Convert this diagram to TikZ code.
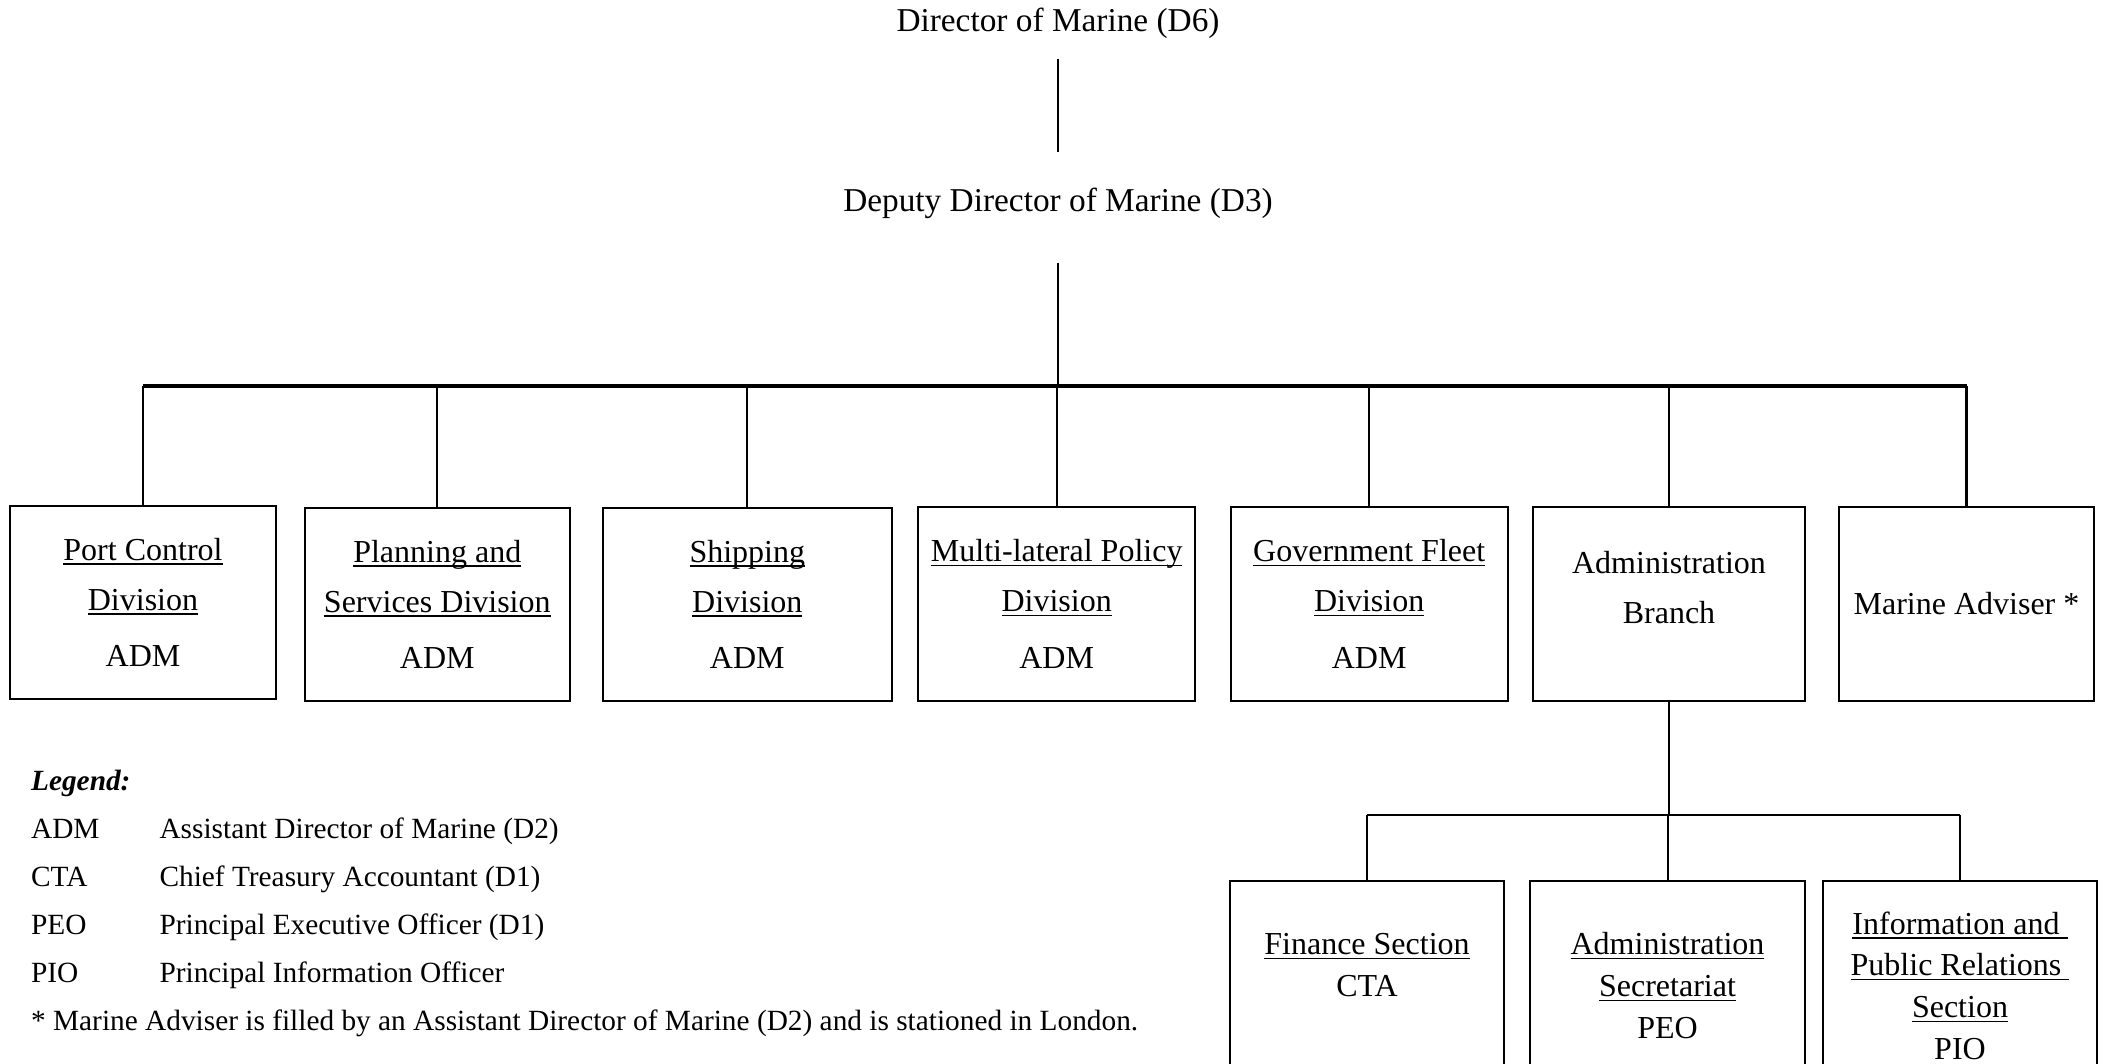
\documentclass[tikz,border=0pt]{standalone}
\usepackage{fontspec}
\setmainfont{Liberation Serif}
\newcommand{\uln}[1]{$\setbox0\hbox{#1}\dp0=0pt\underline{\box0}$}

\tikzset{
	unitbox/.style={draw, line width=0.75pt, minimum width=#1, minimum height=72.4pt, align=center, inner sep=0pt, font=\fontsize{12}{18.75}\selectfont},
	sectbox/.style={draw, line width=0.75pt, minimum width=#1, minimum height=78.4pt, align=center, inner sep=0pt, font=\fontsize{12}{15.6}\selectfont},
	head/.style={anchor=base, inner sep=0pt, font=\fontsize{12.5}{15}\selectfont},
	legtext/.style={anchor=base west, inner sep=0pt, font=\fontsize{11}{13}\selectfont},
	link/.style={line width=0.75pt},
	bus/.style={line width=1.2pt}
}

\begin{document}
\begin{tikzpicture}[x=0.375pt,y=-0.375pt]
		\useasboundingbox (0,0) rectangle (2103,1063);
		
		\node[head] (dir) at (1058,31.7) {Director of Marine (D6)};
		\node[head] (dep) at (1058,211.7) {Deputy Director of Marine (D3)};
		\coordinate (top) at (1058,386);
		\coordinate (sub) at (1669,815);
		
		% divisions
		\node[unitbox=99.4pt] (b1) at (143,602.5) {\uln{Port Control}\\\uln{Division}\\[2.5pt]ADM};
		\node[unitbox=99.5pt] (b2) at (437.3,604.5) {\uln{Planning and}\\\uln{Services Division}\\[2.5pt]ADM};
		\node[unitbox=108.2pt] (b3) at (747.3,604.5) {\uln{Shipping}\\\uln{Division}\\[2.5pt]ADM};
		\node[unitbox=104pt] (b4) at (1056.7,604) {\uln{Multi-lateral Policy}\\\uln{Division}\\[2.5pt]ADM};
		\node[unitbox=103.9pt] (b5) at (1369.2,604) {\uln{Government Fleet}\\\uln{Division}\\[2.5pt]ADM};
		\node[unitbox=102pt] (b6) at (1669,604) {Administration\\Branch\\[-6pt]\mbox{}};
		\node[unitbox=95.6pt] (b7) at (1966.5,604) {Marine Adviser *};
		
		% sections
		\node[sectbox=102.75pt] (s1) at (1367,985.5) {\uln{Finance Section}\\CTA\\\mbox{}};
		\node[sectbox=103.1pt] (s2) at (1667.5,985.5) {\uln{Administration}\\\uln{Secretariat}\\PEO};
		\node[sectbox=102.75pt] (s3) at (1960,985.5) {\uln{Information and\ }\\\uln{Public Relations\ }\\\uln{Section}\\PIO};
		
		\draw[link, shorten <=10.2pt, shorten >=22.4pt] (dir.base) -- (dep.base);
		\draw[link, shorten <=19.2pt] (dep.base) -- (top);
		\draw[bus] (b1.north |- top) -- (b7.north |- top);
		\foreach \i in {1,...,6} {
			\draw[link] (b\i.north) -- (b\i.north |- top);
		}
		\draw[bus] (b7.north) -- (b7.north |- top);
		
		\draw[link] (b6.south) -- (sub);
		\draw[link] (s1.north |- sub) -- (s3.north |- sub);
		\foreach \i in {1,2,3} {
			\draw[link] (s\i.north) -- (s\i.north |- sub);
		}
		
		% legend
		\node[legtext] (leg) at (30.6,790) {\textbf{\textit{Legend:}}};
		\foreach \abbr/\full [count=\i] in {ADM/Assistant Director of Marine (D2), CTA/Chief Treasury Accountant (D1), PEO/Principal Executive Officer (D1), PIO/Principal Information Officer} {
			\node[legtext] (abbr\i) at (30.6,790+48*\i) {\abbr};
			\node[legtext] (full\i) at (159,790+48*\i) {\full};
		}
		\node[legtext] (note) at (30.6,1030) {* Marine Adviser is filled by an Assistant Director of Marine (D2) and is stationed in London.};
	\end{tikzpicture}
\end{document}
